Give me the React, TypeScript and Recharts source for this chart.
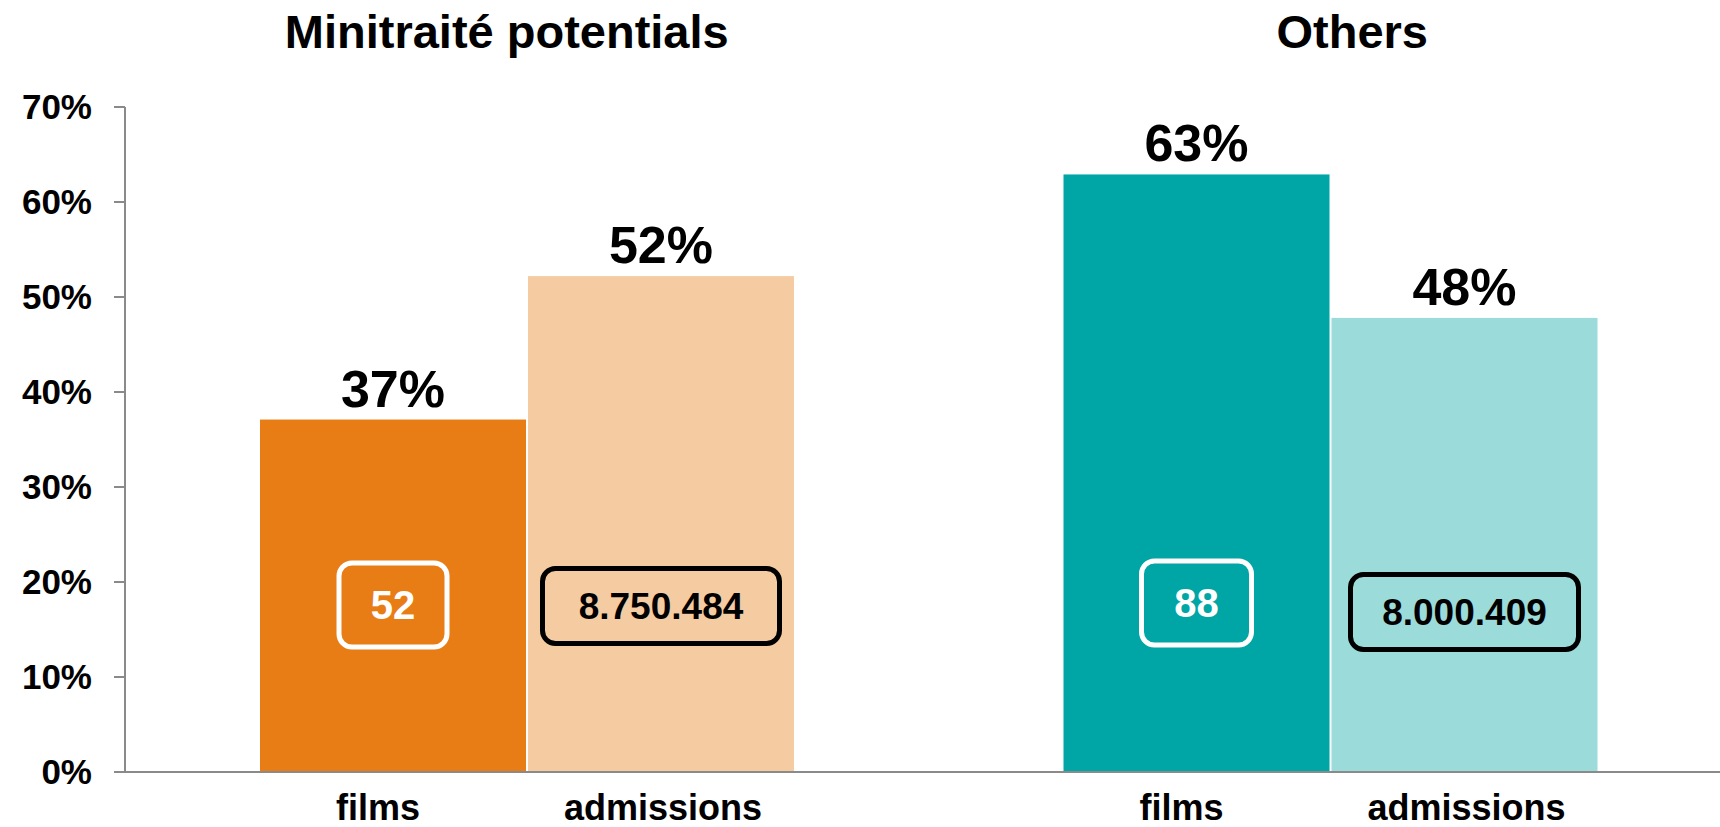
import React from "react";
import { BarChart, Bar, XAxis, YAxis, LabelList } from "recharts";

const groups = ["Minitraité potentials", "Others"];
const filmsShare = [37.1, 62.9];
const admissionsShare = [52.2, 47.8];
const filmCounts = ["52", "88"];
const admissionCounts = ["8.750.484", "8.000.409"];
const yTicks = [0, 10, 20, 30, 40, 50, 60, 70];

const FONT = '"Liberation Sans", Arial, Helvetica, sans-serif';
const AXIS_GREY = "#8a8a8a";
const FILM_COLORS = ["#e97d15", "#00a5a5"];
const ADMISSION_COLORS = ["#f5cba1", "#9bdbda"];
// titles were placed by hand in the original, a bit off the group centres
const TITLE_SHIFT = [-20, 22];

const data = groups.map((group, i) => ({
  group,
  films: filmsShare[i],
  admissions: admissionsShare[i],
}));

const GroupTitle = ({ x, y, payload, index }: any) => {
  const i = index ?? payload?.index ?? 0;
  return (
    <text
      x={x + (TITLE_SHIFT[i] || 0)}
      y={y}
      textAnchor="middle"
      fontFamily={FONT}
      fontWeight={700}
      fontSize={47}
      fill="#000"
    >
      {payload.value}
    </text>
  );
};

type BarStyle = {
  colors: string[];
  counts: string[];
  boxColor: string;
  boxW: number[];
  boxH: number;
  lift: number[];
  countSize: number;
  label: string;
  labelShift: number;
};

const makeBarShape = (s: BarStyle) => (props: any) => {
  const { x, y, width, height } = props;
  let i = groups.indexOf(props.payload?.group);
  if (i < 0) i = props.index ?? 0;
  const cx = x + width / 2;
  const cy = y + height - s.lift[i];
  const w = s.boxW[i];
  return (
    <g>
      <rect x={x} y={y} width={width} height={height} fill={s.colors[i]} />
      <rect
        x={cx - w / 2}
        y={cy - s.boxH / 2}
        width={w}
        height={s.boxH}
        rx={13}
        ry={13}
        fill="none"
        stroke={s.boxColor}
        strokeWidth={5}
      />
      <text
        x={cx}
        y={cy + s.countSize * 0.36}
        textAnchor="middle"
        fontFamily={FONT}
        fontWeight={700}
        fontSize={s.countSize}
        fill={s.boxColor}
      >
        {s.counts[i]}
      </text>
      <text
        x={cx + s.labelShift}
        y={y + height + 48}
        textAnchor="middle"
        fontFamily={FONT}
        fontWeight={700}
        fontSize={36}
        fill="#000"
      >
        {s.label}
      </text>
    </g>
  );
};

const FilmBar = makeBarShape({
  colors: FILM_COLORS,
  counts: filmCounts,
  boxColor: "#fff",
  boxW: [108, 110],
  boxH: 84,
  lift: [167, 169],
  countSize: 40,
  label: "films",
  labelShift: -15,
});

const AdmissionBar = makeBarShape({
  colors: ADMISSION_COLORS,
  counts: admissionCounts,
  boxColor: "#000",
  boxW: [237, 228],
  boxH: 75,
  lift: [166, 160],
  countSize: 37,
  label: "admissions",
  labelShift: 2,
});

const pct = (v: any) => `${Math.round(Number(v))}%`;

const valueLabelStyle = {
  fontFamily: FONT,
  fontWeight: 700,
  fontSize: 52,
  fill: "#000",
};

export default function App() {
  return (
    <div
      style={{
        position: "fixed",
        left: 0,
        top: 0,
        width: 1720,
        height: 827,
        overflow: "hidden",
        background: "#fff",
      }}
    >
      <BarChart
        width={1732}
        height={827}
        data={data}
        margin={{ top: 0, right: 0, bottom: 0, left: 0 }}
        barSize={266}
        barGap={2}
      >
        <XAxis
          xAxisId="top"
          orientation="top"
          dataKey="group"
          height={107}
          axisLine={false}
          tickLine={false}
          tickSize={0}
          tickMargin={59}
          tick={<GroupTitle />}
          interval={0}
        />
        <XAxis
          xAxisId="bottom"
          dataKey="group"
          height={55}
          tick={false}
          tickLine={false}
          axisLine={{ stroke: AXIS_GREY, strokeWidth: 2 }}
        />
        <YAxis
          domain={[0, 70]}
          ticks={yTicks}
          width={125}
          tickSize={11}
          tickMargin={22}
          tickFormatter={(v: number) => `${v}%`}
          axisLine={{ stroke: AXIS_GREY, strokeWidth: 2 }}
          tickLine={{ stroke: AXIS_GREY, strokeWidth: 2 }}
          tick={{ fontFamily: FONT, fontWeight: 700, fontSize: 35, fill: "#000" }}
        />
        <Bar
          xAxisId="bottom"
          dataKey="films"
          shape={FilmBar}
          isAnimationActive={false}
        >
          <LabelList dataKey="films" position="top" offset={13} formatter={pct} style={valueLabelStyle} />
        </Bar>
        <Bar
          xAxisId="bottom"
          dataKey="admissions"
          shape={AdmissionBar}
          isAnimationActive={false}
        >
          <LabelList dataKey="admissions" position="top" offset={13} formatter={pct} style={valueLabelStyle} />
        </Bar>
      </BarChart>
    </div>
  );
}
